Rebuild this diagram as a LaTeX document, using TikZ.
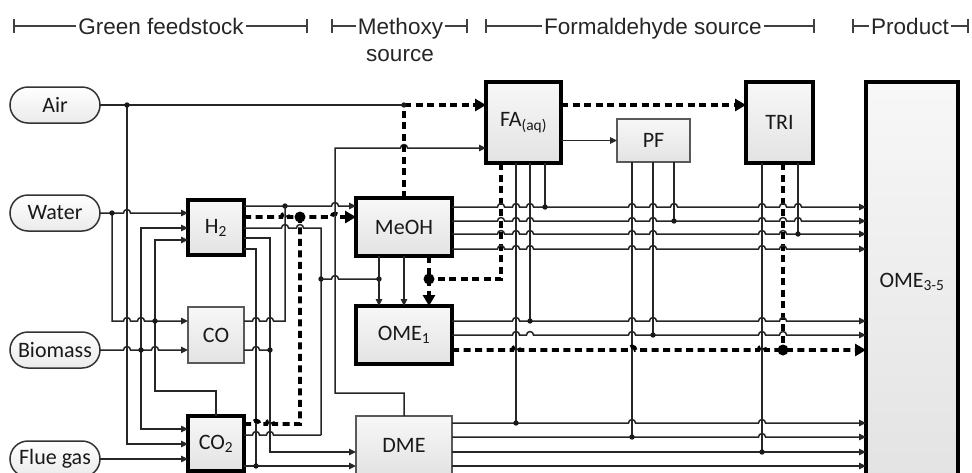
\documentclass[tikz,border=0pt]{standalone}
\usepackage{fontspec}
\setmainfont{Liberation Sans}
\newfontfamily\labfont{Carlito}
\usetikzlibrary{arrows.meta}
\newcommand{\hopln}[5]{\draw[#1] #2 \foreach \hx in {#4}{ -- (\hx-3.5,#3) arc[start angle=180,end angle=360,radius=3.5]} #5;}
\newcommand{\dt}[1]{\fill[black!90] (#1) circle[radius=2.7pt];}
\newcommand{\bdt}[1]{\fill[black] (#1) circle[radius=5.5pt];}
\begin{document}
\begin{tikzpicture}[x=1pt,y=-1pt,
  ln/.style={line width=1.5pt, draw=black!85},
  arr/.style={ln, -{Triangle[length=7pt,width=6.5pt]}},
  barr/.style={ln, {Triangle[length=7pt,width=6.5pt]}-{Triangle[length=7pt,width=6.5pt]}},
  dsh/.style={line width=3.8pt, draw=black, dash pattern=on 7pt off 4.5pt},
  darr/.style={dsh, -{Triangle[length=11pt,width=12pt]}},
  brk/.style={line width=1.5pt, draw=black!75},
  hdr/.style={font=\fontsize{22.5}{27}\selectfont, text=black!85, fill=white, inner xsep=2pt, inner ysep=1pt, anchor=base},
  box/.style={draw=black!65, line width=1.5pt, top color=black!3, bottom color=black!11, inner sep=0pt, outer sep=0pt, font=\labfont\fontsize{22}{26}\selectfont, text=black!90},
  tbox/.style={box, draw=black, line width=3.2pt},
  pill/.style={draw=black!80, line width=1.5pt, rounded corners=18pt, minimum width=90pt, minimum height=36pt, top color=white, bottom color=black!8, inner sep=0pt, outer sep=0pt, font=\labfont\fontsize{22}{26}\selectfont, text=black!90}]
\fill[white] (0,0) rectangle (972,472);
\useasboundingbox (0,0) rectangle (972,472);

% header brackets
\draw[brk] (14,19) -- (14,33) (14,26) -- (307,26) (307,19) -- (307,33);
\node[hdr] (gf) at (161,34) {Green feedstock};
\draw[brk] (332,19) -- (332,33) (332,26) -- (467,26) (467,19) -- (467,33);
\node[hdr] (mx) at (400.5,34) {Methoxy};
\node[hdr, fill=none] (ms) at (400,61.5) {source};
\draw[brk] (486,19) -- (486,33) (486,26) -- (814,26) (814,19) -- (814,33);
\node[hdr] (fs) at (653,34) {Formaldehyde source};
\draw[brk] (853,19) -- (853,33) (853,26) -- (968,26) (968,19) -- (968,33);
\node[hdr] (pr) at (910,34) {Product};

% feeds
\node[pill] (Air) at (55,105) {Air};
\node[pill] (Water) at (55,213) {Water};
\node[pill] (Biomass) at (55,350) {Biomass};
\node[pill] (Flue) at (55,459) {Flue gas};

% boxes
\node[tbox, minimum width=56pt, minimum height=55pt] (H2) at (216,227.5) {H\textsubscript{2}};
\node[box, minimum width=56pt, minimum height=56pt] (CO) at (216,335) {CO};
\node[tbox, minimum width=56pt, minimum height=55pt] (CO2) at (216,443.5) {CO\textsubscript{2}};
\node[tbox, minimum width=96pt, minimum height=58pt] (MeOH) at (404,227) {MeOH};
\node[tbox, minimum width=96pt, minimum height=58pt] (OME1) at (404,335) {OME\textsubscript{1}};
\node[box, minimum width=96pt, minimum height=58pt] (DME) at (404,445) {DME};
\node[tbox, minimum width=75pt, minimum height=81pt] (FA) at (523.5,122.5) {FA\textsubscript{(aq)}};
\node[box, minimum width=73pt, minimum height=43pt] (PF) at (653.5,140.5) {PF};
\node[tbox, minimum width=67pt, minimum height=81pt] (TRI) at (779.5,122.5) {TRI};
\node[tbox, minimum width=92pt, minimum height=400pt] (OME35) at (912,282) {OME\textsubscript{3-5}};

% Air
\draw[ln] (Air.east) -- (404,105);
\draw[darr] (404,105) -- (FA.west |- 0,105);
\draw[arr] (127,105) -- (127,444) -- (CO2.west |- 0,444);
\dt{127,105}

% Water / Biomass / Flue gas
\hopln{arr}{(Water.east)}{213}{127}{-- (H2.west |- 0,213)}
\hopln{arr}{(112,213) -- (112,321)}{321}{127,141}{-- (CO.west |- 0,321)}
\dt{112,213}
\hopln{arr}{(Biomass.east)}{350}{127,155}{-- (CO.west |- 0,350)}
\draw[barr] (H2.west |- 0,228) -- (141,228) -- (141,429) -- (CO2.west |- 0,429);
\dt{141,350}
\draw[arr] (CO2.north) -- (216,391) -- (155,391) -- (155,240) -- (H2.west |- 0,240);
\dt{155,321}
\draw[arr] (Flue.east) -- (CO2.west |- 0,459);

% H2 outputs
\hopln{arr}{(H2.east |- 0,206)}{206}{335}{-- (MeOH.west |- 0,206)}
\dt{285,206}
\hopln{darr}{(H2.east |- 0,217)}{217}{285,335}{-- (MeOH.west |- 0,217)}
\hopln{ln}{(H2.east |- 0,228)}{228}{285,300}{-- (321,228) -- (321,435)}
\draw[arr] (H2.east |- 0,238) -- (270,238) -- (270,452) -- (DME.west |- 0,452);
\draw[ln] (H2.east |- 0,249) -- (256,249) -- (256,466);

% CO outputs
\hopln{ln}{(CO.east |- 0,321)}{321}{256,270}{-- (285,321) -- (285,206)}
\hopln{ln}{(CO.east |- 0,350)}{350}{256}{-- (270,350)}
\dt{270,350}

% CO2 outputs
\hopln{dsh}{(CO2.east |- 0,424)}{424}{256,270}{-- (300,424) -- (300,217)}
\hopln{ln}{(CO2.east |- 0,435)}{435}{256,270}{-- (321,435)}
\draw[arr] (CO2.east |- 0,466) -- (DME.west |- 0,466);
\dt{256,466}
\dt{321,279}

% DME -> FA
\hopln{arr}{(DME.north) -- (404,393) -- (335,393) -- (335,148)}{148}{404}{-- (FA.west |- 0,148)}
% MeOH -> FA (dashed)
\draw[dsh] (MeOH.north) -- (404,105);
\dt{404,105}

% MeOH -> OME1
\hopln{ln}{(321,279)}{279}{335}{-- (379,279)}
\dt{379,279}
\draw[arr] (MeOH.south -| 379,0) -- (OME1.north -| 379,0);
\draw[arr] (MeOH.south) -- (OME1.north);
\draw[darr] (MeOH.south -| 429,0) -- (OME1.north -| 429,0);
\draw[dsh] (FA.south -| 501,0) -- (501,279) -- (429,279);
\bdt{429,279}
\bdt{300,217}

% FA -> PF, TRI
\draw[arr] (FA.east |- PF.west) -- (PF.west);
\draw[darr] (FA.east |- 0,105) -- (TRI.west |- 0,105);

% verticals from FA, PF, TRI
\draw[ln] (FA.south -| 545,0) -- (545,207);
\draw[ln] (FA.south -| 530,0) -- (530,321);
\draw[ln] (FA.south -| 516,0) -- (516,423);
\draw[ln] (PF.south -| 632,0) -- (632,437);
\draw[ln] (PF.south -| 653,0) -- (653,335);
\draw[ln] (PF.south -| 674,0) -- (674,221);
\draw[ln] (TRI.south -| 762,0) -- (762,452);
\draw[ln] (TRI.south -| 798,0) -- (798,234);
\draw[dsh] (TRI.south -| 783,0) -- (783,350);

% lines into OME3-5
\hopln{arr}{(MeOH.east |- 0,207)}{207}{501,516,530,632,653,674,762,783,798}{-- (OME35.west |- 0,207)}
\hopln{arr}{(MeOH.east |- 0,221)}{221}{501,516,530,632,653,762,783,798}{-- (OME35.west |- 0,221)}
\hopln{arr}{(MeOH.east |- 0,234)}{234}{501,516,530,632,653,762,783}{-- (OME35.west |- 0,234)}
\hopln{arr}{(MeOH.east |- 0,249)}{249}{501,516,530,632,653,762,783}{-- (OME35.west |- 0,249)}
\hopln{arr}{(OME1.east |- 0,321)}{321}{516,632,653,762,783}{-- (OME35.west |- 0,321)}
\hopln{arr}{(OME1.east |- 0,335)}{335}{516,530,632,762,783}{-- (OME35.west |- 0,335)}
\hopln{darr}{(OME1.east |- 0,350)}{350}{516,632,762}{-- (OME35.west |- 0,350)}
\hopln{arr}{(DME.east |- 0,423)}{423}{632,762}{-- (OME35.west |- 0,423)}
\hopln{arr}{(DME.east |- 0,437)}{437}{762}{-- (OME35.west |- 0,437)}
\draw[arr] (DME.east |- 0,452) -- (OME35.west |- 0,452);
\draw[arr] (DME.east |- 0,466) -- (OME35.west |- 0,466);

\dt{545,207} \dt{674,221} \dt{798,234}
\dt{530,321} \dt{653,335} \bdt{783,350}
\dt{516,423} \dt{632,437} \dt{762,452}
\end{tikzpicture}
\end{document}
